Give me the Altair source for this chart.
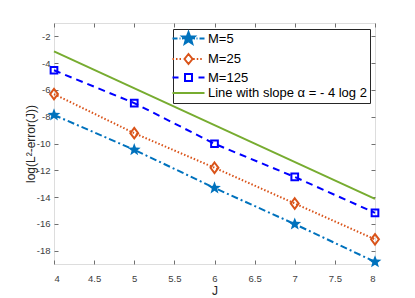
import math
import altair as alt
import pandas as pd

# ---- data ----
J = [4, 5, 6, 7, 8]
m5 = [-7.87, -10.47, -13.32, -16.02, -18.84]
m25 = [-6.31, -9.23, -11.81, -14.48, -17.16]
m125 = [-4.53, -6.98, -10.02, -12.50, -15.18]
J_ref = [4, 8]
ref_line = [-3.12, -14.13]

names = ["M=5", "M=25", "M=125", "Line with slope α = - 4 log 2"]
colors = ["#0072BD", "#D95319", "#0000FF", "#77AC30"]
fills = ["#0072BD", "transparent", "transparent", "transparent"]

x_ticks = [4, 4.5, 5, 5.5, 6, 6.5, 7, 7.5, 8]
y_ticks = [-2, -4, -6, -8, -10, -12, -14, -16, -18]


# ---- marker / legend glyph paths (style only) ----
def star(R, r, cx=0.0):
    pts = []
    for k in range(10):
        a = math.radians(-90 + 36 * k)
        rad = R if k % 2 == 0 else r
        pts.append((cx + rad * math.cos(a), rad * math.sin(a)))
    return "M" + "L".join(f"{x:.3f},{y:.3f}" for x, y in pts) + "Z"


def seg(a, b):
    return f"M{a:.3f},0L{b:.3f},0"


def dots(a, b, dl=0.3, per=0.7):
    out = ""
    x = a
    while x + dl <= b + 1e-9:
        out += seg(x, x + dl)
        x += per
    return out


star_plot = star(1.0, 0.42)
diamond_plot = "M0,-1L0.75,0L0,1L-0.75,0Z"

leg_m5 = (seg(-3.2, -2.2) + seg(-1.8, -1.6) + seg(-1.3, -1.0) + star(1.3, 0.55)
          + seg(1.0, 1.3) + seg(1.6, 1.8) + seg(2.2, 3.2))
leg_m25 = dots(-3.2, -0.9) + "M0,-1L0.8,0L0,1L-0.8,0Z" + dots(0.95, 3.2)
leg_m125 = seg(-3.2, -2.0) + "M-0.7,-0.7L0.7,-0.7L0.7,0.7L-0.7,0.7Z" + seg(2.0, 3.2)
leg_ref = seg(-3.2, 3.2)
leg_paths = [leg_m5, leg_m25, leg_m125, leg_ref]

# ---- tables ----
df5 = pd.DataFrame({"J": J, "v": m5, "series": names[0]})
df25 = pd.DataFrame({"J": J, "v": m25, "series": names[1]})
df125 = pd.DataFrame({"J": J, "v": m125, "series": names[2]})
dfref = pd.DataFrame({"J": J_ref, "v": ref_line, "series": names[3]})
dfall = pd.concat([df5, df25, df125, dfref], ignore_index=True)

xs = alt.Scale(domain=[4, 8], nice=False, zero=False)
ys = alt.Scale(domain=[-19, -1], nice=False, zero=False)

lab_color = "#404040"
tick_color = "#707070"
font = "Liberation Sans"

x_bottom = alt.X("J:Q", scale=xs, axis=alt.Axis(
    orient="bottom", values=x_ticks, labelExpr="'' + datum.value", title="J",
    offset=-4, tickSize=4, domain=False, grid=False, labelPadding=9,
    labelFontSize=9.5, labelColor=lab_color, tickColor=tick_color,
    titleFontSize=12, titleFontWeight="normal", titleColor="#262626",
    titlePadding=3, labelFont=font, titleFont=font))
y_left = alt.Y("v:Q", scale=ys, axis=alt.Axis(
    orient="left", values=y_ticks, labelExpr="'' + datum.value",
    title="log(L²-error(J))", offset=-4, tickSize=4, domain=False, grid=False,
    labelPadding=4, labelFontSize=9.5, labelColor=lab_color, tickColor=tick_color,
    titleFontSize=12, titleFontWeight="normal", titleColor="#262626",
    titlePadding=-1, labelFont=font, titleFont=font))
x_top = alt.X("J:Q", scale=xs, axis=alt.Axis(
    orient="top", values=x_ticks, labels=False, title=None, offset=-4,
    tickSize=4, domain=False, grid=False, tickColor=tick_color))
y_right = alt.Y("v:Q", scale=ys, axis=alt.Axis(
    orient="right", values=y_ticks, labels=False, title=None, offset=-4,
    tickSize=4, domain=False, grid=False, tickColor=tick_color))
xn = alt.X("J:Q", scale=xs, axis=None)
yn = alt.Y("v:Q", scale=ys, axis=None)

line5 = alt.Chart(df5).mark_line(color=colors[0], strokeWidth=2,
                                 strokeDash=[7, 3, 2, 3]).encode(x=x_bottom, y=y_left)
line25 = alt.Chart(df25).mark_line(color=colors[1], strokeWidth=2,
                                   strokeDash=[1.5, 2]).encode(x=x_top, y=y_right)
line125 = alt.Chart(df125).mark_line(color=colors[2], strokeWidth=2,
                                     strokeDash=[7, 5]).encode(x=xn, y=yn)
lineref = alt.Chart(dfref).mark_line(color=colors[3], strokeWidth=2).encode(x=xn, y=yn)

pt5 = alt.Chart(df5).mark_point(shape=star_plot, filled=True, color=colors[0],
                                size=180, opacity=1).encode(x=xn, y=yn)
pt25 = alt.Chart(df25).mark_point(shape=diamond_plot, filled=False, color=colors[1],
                                  size=110, strokeWidth=2, opacity=1).encode(x=xn, y=yn)
pt125 = alt.Chart(df125).mark_point(shape="square", filled=False, color=colors[2],
                                    size=45, strokeWidth=2, opacity=1).encode(x=xn, y=yn)

legend_layer = alt.Chart(dfall).mark_point(opacity=0, filled=False, strokeWidth=2).encode(
    x=xn, y=yn,
    color=alt.Color("series:N", sort=names, scale=alt.Scale(domain=names, range=colors),
                    legend=alt.Legend(
                        title=None, orient="none", legendX=119, legendY=6,
                        symbolSize=100, symbolStrokeWidth=2, symbolOpacity=1,
                        symbolOffset=6, labelOffset=13, labelFontSize=13,
                        labelFont=font, labelColor="#000000", labelLimit=300,
                        padding=3, rowPadding=1.5, strokeColor="#262626",
                        fillColor="white", cornerRadius=0)),
    fill=alt.Fill("series:N", sort=names, scale=alt.Scale(domain=names, range=fills)),
    shape=alt.Shape("series:N", sort=names, scale=alt.Scale(domain=names, range=leg_paths)),
)

chart = alt.layer(
    line5, line25, lineref, line125, pt125, pt25, pt5, legend_layer
).resolve_axis(x="independent", y="independent").properties(
    width=321, height=241,
    autosize=alt.AutoSizeParams(type="none"),
    padding={"left": 46, "top": 15, "right": 30, "bottom": 34},
).configure_view(stroke="#808080", strokeWidth=1).configure(background="white")

chart.save("out.html", embed_options={"renderer": "svg", "actions": False})
